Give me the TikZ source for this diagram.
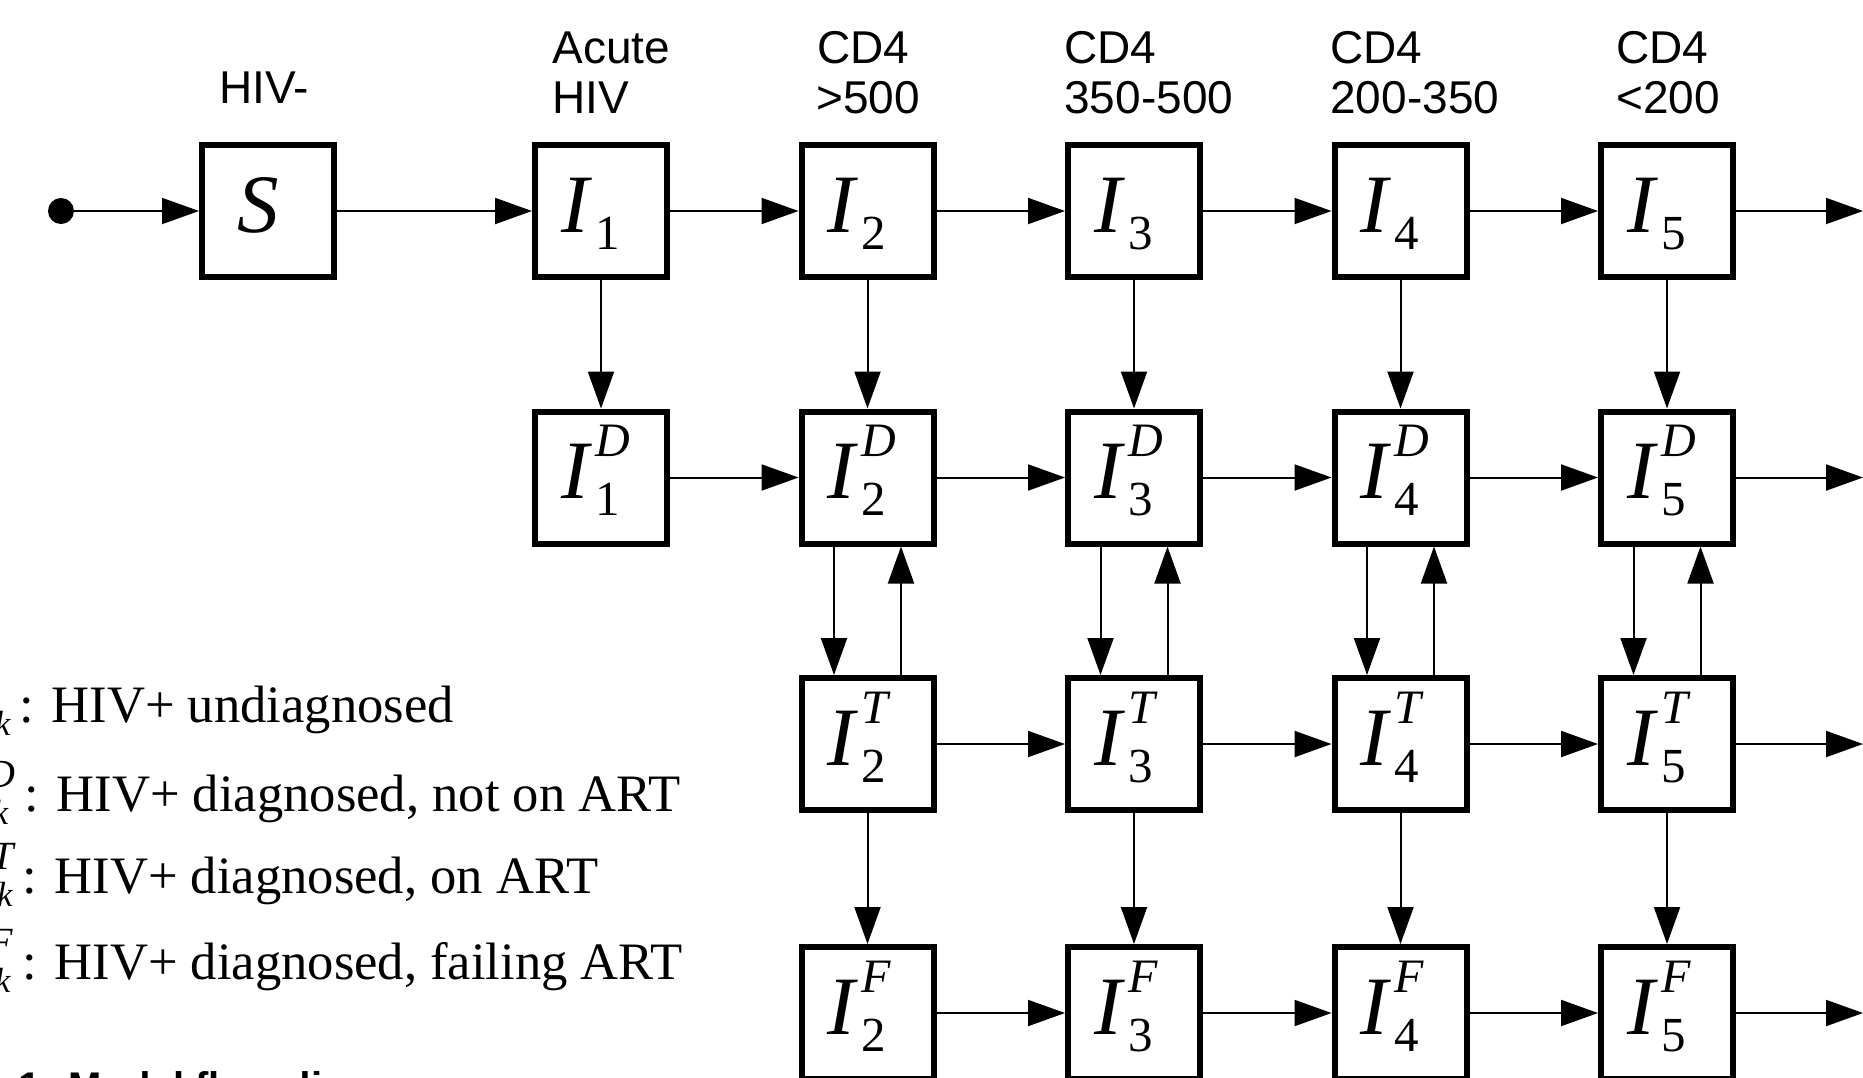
\documentclass[tikz,border=0pt]{standalone}
\usepackage{fontspec}
\newfontfamily\labelfont{Liberation Sans}
\newfontfamily\legendfont{Liberation Serif}
\usetikzlibrary{arrows.meta}
% compartment symbol: italic I with superscript #1 and subscript #2
\newcommand\bigI{{\fontsize{41.5}{44}\selectfont\itshape I}}
\newcommand\cmp[2]{\makebox[40pt][l]{\bigI\kern3.3pt\rlap{\raisebox{21pt}{\fontsize{24}{24}\selectfont\itshape #1}}\raisebox{-8.5pt}{\fontsize{24.5}{24.5}\selectfont #2}}}
% legend symbol
\newcommand\lgsym[2]{\textit{I}\kern1pt\ooalign{\raisebox{12pt}{\fontsize{20}{20}\selectfont\itshape #1}\cr\raisebox{-6.5pt}{\kern3pt\fontsize{17.5}{17.5}\selectfont\itshape #2}\cr}}
\tikzset{
  box/.style={draw, line width=3pt, minimum size=66pt, inner sep=0pt,
    font=\legendfont, text height=32pt, text depth=11pt},
  arr/.style={line width=1pt, -{Triangle[length=18.5pt,width=13pt]}},
  lab/.style={font=\labelfont\fontsize{23}{26}\selectfont, inner sep=0pt, anchor=base west},
  leg/.style={font=\legendfont\fontsize{26.3}{30}\selectfont, inner sep=0pt, anchor=base west},
  capt/.style={font=\labelfont\bfseries\fontsize{20}{24}\selectfont, inner sep=0pt, anchor=base west},
  dotnode/.style={circle, fill, inner sep=0pt, minimum size=13pt}
}
\begin{document}
\begin{tikzpicture}[x=0.5pt,y=-0.5pt]
\useasboundingbox (0,0) rectangle (1863,1077);
\clip (0,0) rectangle (1863,1077);

% column headings
\node[lab, anchor=base] (hS) at (264,103) {HIV-};
\node[lab] (h1a) at (552,63) {Acute};
\node[lab] (h1b) at (552,113) {HIV};
\node[lab] (h2a) at (817,63) {CD4};
\node[lab] (h2b) at (816,113) {>500};
\node[lab] (h3a) at (1064,63) {CD4};
\node[lab] (h3b) at (1064,113) {350-500};
\node[lab] (h4a) at (1330,63) {CD4};
\node[lab] (h4b) at (1330,113) {200-350};
\node[lab] (h5a) at (1616,63) {CD4};
\node[lab] (h5b) at (1616,113) {<200};

% compartments
\node[dotnode] (dot) at (61,211) {};
\node[box] (S) at (268,211) {\makebox[31pt][l]{\fontsize{41.5}{44}\selectfont\itshape S}};
\node[box] (I1) at (601,211) {\cmp{}{1}};
\node[box] (D1) at (601,477.5) {\cmp{D}{1}};
\foreach \k/\x in {2/867.5,3/1134,4/1400.5,5/1667}{
  \node[box] (I\k) at (\x,211) {\cmp{}{\k}};
  \node[box] (D\k) at (\x,477.5) {\cmp{D}{\k}};
  \node[box] (T\k) at (\x,744) {\cmp{T}{\k}};
  \node[box] (F\k) at (\x,1013) {\cmp{F}{\k}};
}
\coordinate (E1) at (1863,211);
\coordinate (E2) at (1863,477.5);
\coordinate (E3) at (1863,744);
\coordinate (E4) at (1863,1013);

% horizontal flows
\draw[arr] (dot.center) -- (S);
\foreach \a/\b in {S/I1,I1/I2,I2/I3,I3/I4,I4/I5,I5/E1,
                   D1/D2,D2/D3,D3/D4,D4/D5,D5/E2,
                   T2/T3,T3/T4,T4/T5,T5/E3,
                   F2/F3,F3/F4,F4/F5,F5/E4}
  \draw[arr] (\a) -- (\b);

% vertical flows
\foreach \k in {1,...,5} \draw[arr] (I\k) -- (D\k);
\foreach \k in {2,...,5}{
  \draw[arr] ([xshift=-16.75pt]D\k.south) -- ([xshift=-16.75pt]T\k.north);
  \draw[arr] ([xshift=16.75pt]T\k.north) -- ([xshift=16.75pt]D\k.south);
  \draw[arr] (T\k) -- (F\k);
}

% legend
\node[leg] (L1) at (19,722) {\llap{\lgsym{}{k}\kern4.5pt}: HIV+ undiagnosed};
\node[leg] (L2) at (24,811) {\llap{\lgsym{D}{k}\kern4.5pt}: HIV+ diagnosed, not on ART};
\node[leg] (L3) at (22,893) {\llap{\lgsym{T}{k}\kern4.5pt}: HIV+ diagnosed, on ART};
\node[leg] (L4) at (22,979) {\llap{\lgsym{F}{k}\kern4.5pt}: HIV+ diagnosed, failing ART};

% caption (cut by the frame)
\node[capt] (cap) at (18,1100) {1: Model flow diagram};
\end{tikzpicture}
\end{document}
